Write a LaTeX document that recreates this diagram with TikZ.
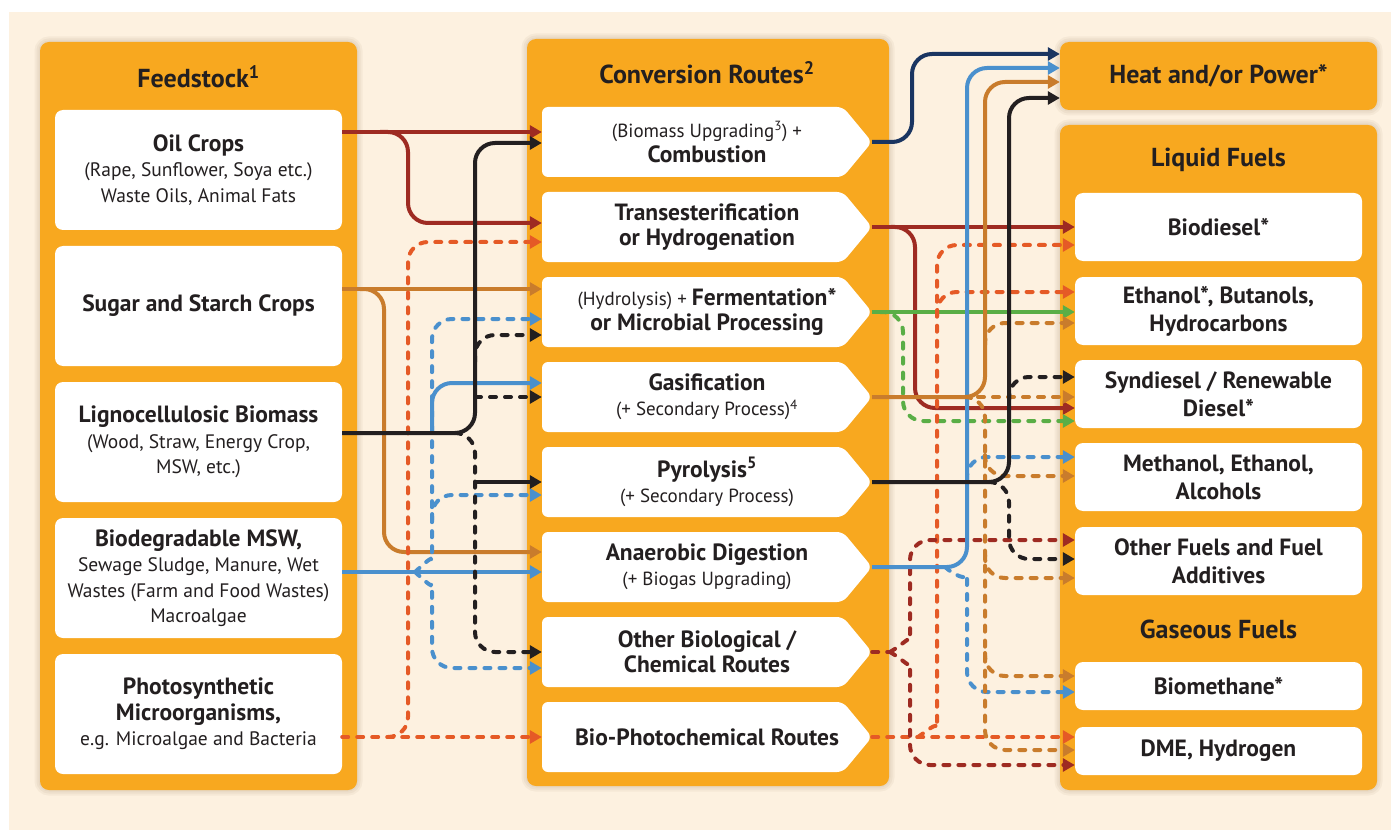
\documentclass[tikz,border=0pt]{standalone}
\usepackage{fontspec}
\setmainfont{PT Sans}
\usetikzlibrary{arrows.meta}

\definecolor{panelorange}{HTML}{F8A81F}
\definecolor{bgcream}{HTML}{FDF1E0}
\definecolor{inkdark}{HTML}{231F20}
\definecolor{shadowbrown}{HTML}{6B4A20}
\definecolor{oilred}{HTML}{9E2B22}
\definecolor{routeblack}{HTML}{231F20}
\definecolor{algaeorange}{HTML}{E55A26}
\definecolor{sugarbrown}{HTML}{C97C2C}
\definecolor{wasteblue}{HTML}{4A90CD}
\definecolor{heatnavy}{HTML}{1A3561}
\definecolor{fermgreen}{HTML}{5AAE46}

\newcommand{\hd}[1]{{\fontsize{23.5}{25.5}\selectfont\bfseries #1}}
\newcommand{\titlefont}{\fontsize{26}{28}\selectfont\bfseries}

\tikzset{
  feedbox/.style={fill=white, rounded corners=8pt, minimum width=287pt, minimum height=120pt,
    align=center, inner sep=0pt, font=\fontsize{19.5}{25.5}\selectfont},
  routebox/.style={minimum width=330pt, minimum height=70pt, align=center, inner sep=0pt,
    font=\fontsize{19}{25}\selectfont},
  fuelbox/.style={fill=white, rounded corners=8pt, minimum width=287pt, minimum height=68pt,
    align=center, inner sep=0pt, font=\fontsize{23.5}{28}\selectfont\bfseries},
  gasbox/.style={fuelbox, minimum height=48pt},
  paneltitle/.style={font=\titlefont},
  flow/.style={line width=4pt, rounded corners=20pt},
  route/.style={flow, -{Triangle[length=12pt,width=13pt]}},
  routedash/.style={route, dash pattern=on 6pt off 9pt, line cap=round},
}

\begin{document}
\begin{tikzpicture}[x=1pt, y=-1pt, text=inkdark]
\useasboundingbox (0,0) rectangle (1395,837);
\fill[white] (0,0) rectangle (1395,837);
\fill[bgcream] (9,12) rectangle (1391,830);

% panels with a soft shadow
\foreach \xa/\ya/\xb/\yb in {40/42/357/790, 527/39/889/786, 1060/42/1377/110, 1060/125/1377/790}{
  \foreach \g in {3,7,11}
    \draw[shadowbrown, opacity=.05, line width=\g pt, rounded corners=9pt] (\xa,\ya) rectangle (\xb,\yb);
  \fill[panelorange, rounded corners=9pt] (\xa,\ya) rectangle (\xb,\yb);
}

% arrow-shaped route boxes
\foreach \y in {142,227,...,737}
  \fill[white, rounded corners=6pt] (542,\y-35) -- (843,\y-35) -- (872,\y) -- (843,\y+35) -- (542,\y+35) -- cycle;

% titles
\node[paneltitle] (feedtitle) at (198.5,77) {Feedstock\textsuperscript{1}};
\node[paneltitle] (convtitle) at (707,73) {Conversion Routes\textsuperscript{2}};
\node[paneltitle, minimum width=317pt, minimum height=68pt] (heat) at (1218.5,76) {Heat and/or Power*};
\node[paneltitle] (liqtitle) at (1218.5,160) {Liquid Fuels};
\node[paneltitle] (gastitle) at (1218.5,629) {Gaseous Fuels};

% feedstock
\node[feedbox] (oil) at (198.5,170) {\hd{Oil Crops}\\(Rape, Sunflower, Soya etc.)\\Waste Oils, Animal Fats};
\node[feedbox] (sugar) at (198.5,306) {\hd{Sugar and Starch Crops}};
\node[feedbox] (ligno) at (198.5,442) {\hd{Lignocellulosic Biomass}\\(Wood, Straw, Energy Crop,\\MSW, etc.)};
\node[feedbox] (msw) at (198.5,578) {\hd{Biodegradable MSW,}\\Sewage Sludge, Manure, Wet\\Wastes (Farm and Food Wastes)\\Macroalgae};
\node[feedbox] (photo) at (198.5,714) {\hd{Photosynthetic}\\\hd{Microorganisms,}\\e.g. Microalgae and Bacteria};

% conversion routes
\node[routebox] (comb) at (707,142) {(Biomass Upgrading\textsuperscript{3}) +\\\hd{Combustion}};
\node[routebox] (trans) at (707,227) {\hd{Transesterification}\\\hd{or Hydrogenation}};
\node[routebox] (ferm) at (707,312) {(Hydrolysis) + \hd{Fermentation*}\\\hd{or Microbial Processing}};
\node[routebox] (gasi) at (707,397) {\hd{Gasification}\\(+ Secondary Process)\textsuperscript{4}};
\node[routebox] (pyro) at (707,482) {\hd{Pyrolysis\textsuperscript{5}}\\(+ Secondary Process)};
\node[routebox] (anae) at (707,567) {\hd{Anaerobic Digestion}\\(+ Biogas Upgrading)};
\node[routebox] (other) at (707,652) {\hd{Other Biological /}\\\hd{Chemical Routes}};
\node[routebox] (bioph) at (707,737) {\hd{Bio-Photochemical Routes}};

% products
\node[fuelbox] (biod) at (1218.5,227) {Biodiesel*};
\node[fuelbox] (etha) at (1218.5,311) {Ethanol*, Butanols,\\Hydrocarbons};
\node[fuelbox] (synd) at (1218.5,394) {Syndiesel / Renewable\\Diesel*};
\node[fuelbox] (meth) at (1218.5,477) {Methanol, Ethanol,\\Alcohols};
\node[fuelbox] (othf) at (1218.5,561) {Other Fuels and Fuel\\Additives};
\node[gasbox] (biom) at (1218.5,686) {Biomethane*};
\node[gasbox] (dme) at (1218.5,751) {DME, Hydrogen};

% feedstock -> conversion
\draw[route, oilred] (oil.east |- 0,132) -- (comb.west |- 0,132);
\draw[route, oilred] (380,132) -- (408,132) -- (408,223) -- (trans.west |- 0,223);

\draw[route, sugarbrown] (sugar.east |- 0,289) -- (ferm.west |- 0,289);
\draw[route, sugarbrown] (360,289) -- (384,289) -- (384,552) -- (anae.west |- 0,552);

\draw[routedash, algaeorange] (photo.east |- 0,737) -- (bioph.west |- 0,737);
\draw[routedash, algaeorange] (388,737) -- (408,737) -- (408,242) -- (trans.west |- 0,242);

\draw[route, wasteblue] (msw.east |- 0,572) -- (anae.west |- 0,572);
\draw[routedash, wasteblue] (415,572) .. controls (425,563) and (432,556) .. (432,540) -- (432,319) -- (ferm.west |- 0,319);
\draw[route, wasteblue] (432,433) -- (432,383) -- (gasi.west |- 0,383);
\draw[routedash, wasteblue] (432,520) -- (432,495) -- (pyro.west |- 0,495);
\draw[routedash, wasteblue] (415,572) .. controls (425,581) and (432,588) .. (432,604) -- (432,668) -- (other.west |- 0,668);

\draw[route, routeblack] (ligno.east |- 0,433) -- (475,433) -- (475,143) -- (comb.west |- 0,143);
\draw[routedash, routeblack] (455,433) -- (475,433) -- (475,652) -- (other.west |- 0,652);
\draw[routedash, routeblack] (475,362) -- (475,335) -- (ferm.west |- 0,335);
\draw[routedash, routeblack] (475,397) -- (gasi.west |- 0,397);
\draw[route, routeblack] (475,482) -- (pyro.west |- 0,482);

% conversion -> products
\draw[route, heatnavy] (comb.east) -- (912,142) -- (912,54) -- (heat.west |- 0,54);

\draw[route, oilred] (trans.east) -- (biod.west |- 0,227);
\draw[route, oilred] (891,227) -- (915,227) -- (915,408) -- (synd.west |- 0,408);

\draw[route, fermgreen] (ferm.east) -- (etha.west |- 0,312);
\draw[routedash, fermgreen] (880,312) -- (903,312) -- (903,421) -- (synd.west |- 0,421);

\draw[routedash, algaeorange] (bioph.east) -- (dme.west |- 0,737);
\draw[routedash, algaeorange] (918,737) .. controls (928,730) and (937,722) .. (937,708) -- (937,245) -- (biod.west |- 0,245);
\draw[routedash, algaeorange] (937,316) -- (937,292) -- (etha.west |- 0,292);

\draw[routedash, oilred, -] (other.east) -- (890,652);
\draw[routedash, oilred] (890,652) .. controls (902,645) and (910,636) .. (910,620) -- (910,540) -- (othf.west |- 0,540);
\draw[routedash, oilred] (890,652) .. controls (902,659) and (910,668) .. (910,684) -- (910,765) -- (dme.west |- 0,765);

\draw[route, wasteblue] (anae.east) -- (967,567) -- (967,68) -- (heat.west |- 0,68);
\draw[routedash, wasteblue] (967,480) -- (967,457) -- (meth.west |- 0,457);
\draw[routedash, wasteblue] (945,567) .. controls (955,576) and (967,580) .. (967,595) -- (967,692) -- (biom.west |- 0,692);

\draw[route, sugarbrown] (gasi.east) -- (985,397) -- (985,82) -- (heat.west |- 0,82);
\draw[routedash, sugarbrown] (963,397) -- (synd.west |- 0,397);
\draw[routedash, sugarbrown] (965,397) -- (985,397) -- (985,750) -- (dme.west |- 0,750);
\draw[routedash, sugarbrown] (985,345) -- (985,323) -- (etha.west |- 0,323);
\draw[routedash, sugarbrown] (985,455) -- (985,476) -- (meth.west |- 0,476);
\draw[routedash, sugarbrown] (985,555) -- (985,578) -- (othf.west |- 0,578);
\draw[routedash, sugarbrown] (985,653) -- (985,676) -- (biom.west |- 0,676);

\draw[route, routeblack] (pyro.east) -- (1009,482) -- (1009,98) -- (heat.west |- 0,98);
\draw[routedash, routeblack] (1009,400) -- (1009,377) -- (synd.west |- 0,377);
\draw[routedash, routeblack] (989,482) -- (1009,482) -- (1009,559) -- (othf.west |- 0,559);
\end{tikzpicture}
\end{document}
